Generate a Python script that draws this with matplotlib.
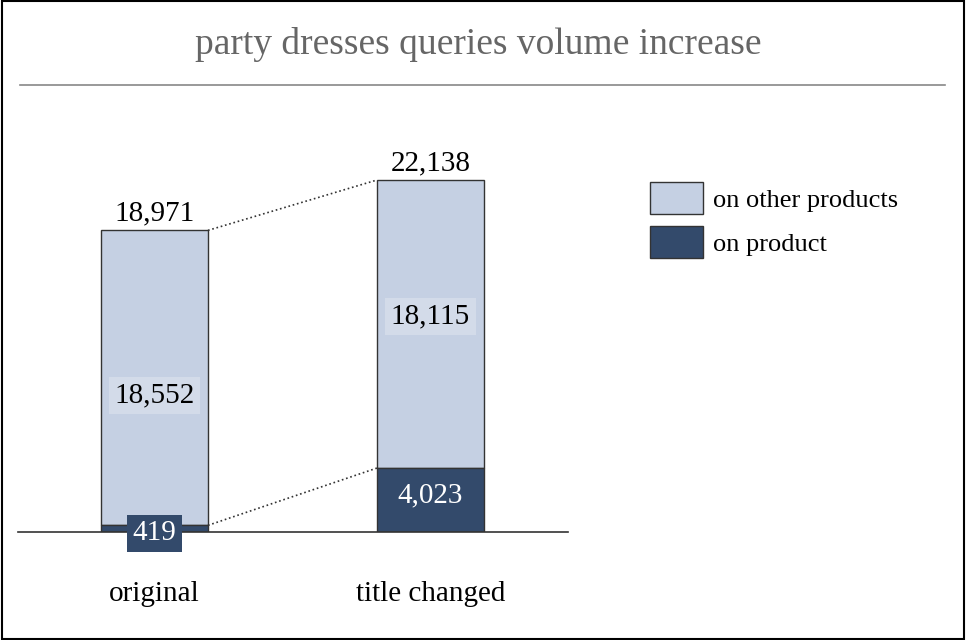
import matplotlib
matplotlib.use("Agg")
import matplotlib.pyplot as plt
from matplotlib.patches import Rectangle

categories = ["original", "title changed"]
on_product = [419, 4023]
on_other = [18552, 18115]
totals = [18971, 22138]
series_names = ["on other products", "on product"]

light = "#c5d0e3"
dark = "#334a6b"
W, H = 966, 640
plt.rcParams['font.family'] = ['Liberation Serif', 'DejaVu Serif']
fig = plt.figure(figsize=(W/100, H/100), dpi=100)
fig.patches.append(Rectangle((0.002, 0.002), 0.996, 0.996, transform=fig.transFigure,
                             fill=False, edgecolor="black", linewidth=1.5))
fig.text(478/W, 1-45/H, "party dresses queries volume increase", ha="center", va="center",
         fontsize=27, color="#666666", fontstretch="expanded")
fig.add_artist(plt.Line2D([20/W, 945/W], [1-85/H, 1-85/H], color="#888888", linewidth=1.2))

top_px = 150
ax = fig.add_axes([18/W, (H-532)/H, 550/W, (532-top_px)/H])
ymax = totals[1] * (532-top_px) / 352
ax.set_xlim(0, 550)
ax.set_ylim(0, ymax)
ax.axis("off")
ax.axhline(0, color="#333333", linewidth=1.2, clip_on=False)
xs = [136.5, 412.5]
bw = 107
b1 = ax.bar(xs, on_other, bw, bottom=on_product, color=light, edgecolor="#333333", linewidth=1, label=series_names[0])
b2 = ax.bar(xs, on_product, bw, color=dark, edgecolor="#333333", linewidth=1, label=series_names[1])

fs = 21
for i, x in enumerate(xs):
    ax.text(x, totals[i] + 250, f"{totals[i]:,}", ha="center", va="bottom", fontsize=fs)
    ax.text(x, on_product[i] + on_other[i]/2 - (1100 if i == 0 else -500), f"{on_other[i]:,}", ha="center", va="center",
            fontsize=fs, bbox=dict(facecolor="#d3dbe9", edgecolor="none", pad=4))
    if i == 0:
        ax.text(x, on_product[i]/2 - 300, f"{on_product[i]:,}", ha="center", va="center", fontsize=fs, color="white",
                bbox=dict(facecolor=dark, edgecolor="none", pad=4))
    else:
        ax.text(x, on_product[i]/2 + 300, f"{on_product[i]:,}", ha="center", va="center", fontsize=fs, color="white")
    ax.text(x, -3900, categories[i], ha="center", va="center", fontsize=fs, clip_on=False)

r0, l1 = xs[0] + bw/2, xs[1] - bw/2
ax.plot([r0, l1], [totals[0], totals[1]], linestyle=":", color="#333333", linewidth=1.2)
ax.plot([r0, l1], [on_product[0], on_product[1]], linestyle=":", color="#333333", linewidth=1.2)

leg = fig.legend(handles=[b1, b2], labels=series_names, loc="upper left",
                 bbox_to_anchor=(626/W, 1-158/H), frameon=False, fontsize=19,
                 handlelength=2.0, handleheight=1.5, handletextpad=0.4, labelspacing=0.45)
fig.savefig("out.png", dpi=100)
